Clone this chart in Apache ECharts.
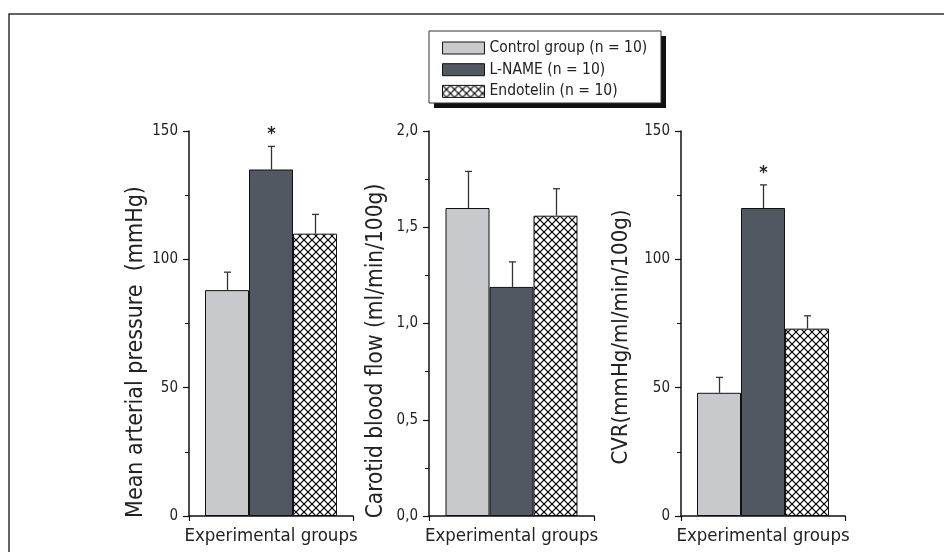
<!DOCTYPE html>
<html>
<head>
<meta charset="utf-8">
<script src="https://cdn.jsdelivr.net/npm/echarts@6/dist/echarts.min.js"></script>
<style>
html,body{margin:0;padding:0;background:#fff;}
#chart{width:944px;height:552px;}
</style>
</head>
<body>
<div id="chart"></div>
<script>
// ---- data ----
const groups = ['Control group (n = 10)', 'L-NAME (n = 10)', 'Endotelin (n = 10)'];
const xTitle = 'Experimental groups';
const categories = [''];
const mapMean = [88, 135, 110];
const mapErr = [7, 9, 7.5];
const mapSig = ['', '*', ''];
const cbfMean = [1.6, 1.19, 1.56];
const cbfErr = [0.19, 0.13, 0.14];
const cbfSig = ['', '', ''];
const cvrMean = [48, 120, 73];
const cvrErr = [6, 9, 5];
const cvrSig = ['', '*', ''];
const yTitles = ['Mean arterial pressure  (mmHg)', 'Carotid blood flow (ml/min/100g)', 'CVR(mmHg/ml/min/100g)'];
const yMax = [150, 2, 150];
const yInterval = [50, 0.5, 50];
const yDecimals = [0, 1, 0];

// ---- styling / layout ----
const FONT = "'DejaVu Sans Condensed', 'Liberation Sans Narrow', sans-serif";
const TXT = '#222';
const BAR_W = 44;
const grids = [
  {left: 189, top: 131, width: 164, height: 385},
  {left: 429, top: 131, width: 165, height: 385},
  {left: 681, top: 131, width: 164, height: 385}
];
const titlePos = [[136, 352], [376, 351], [621, 337]];
const titleSize = [23, 22.5, 22];

function hatch() {
  const c = document.createElement('canvas');
  const s = 8;
  c.width = s; c.height = s;
  const g = c.getContext('2d');
  g.fillStyle = '#fff';
  g.fillRect(0, 0, s, s);
  g.strokeStyle = '#000';
  g.lineWidth = 1.2;
  g.beginPath();
  g.moveTo(-1, -1); g.lineTo(s + 1, s + 1);
  g.moveTo(s + 1, -1); g.lineTo(-1, s + 1);
  g.stroke();
  return c;
}
const fills = ['#c8c9cd', '#525862', {image: hatch(), repeat: 'repeat'}];

const panels = [
  {mean: mapMean, err: mapErr, sig: mapSig},
  {mean: cbfMean, err: cbfErr, sig: cbfSig},
  {mean: cvrMean, err: cvrErr, sig: cvrSig}
];

const xAxes = [], yAxes = [], series = [];
panels.forEach((p, k) => {
  xAxes.push({
    type: 'category', gridIndex: k, data: categories,
    axisLine: {lineStyle: {color: '#111', width: 1.5}},
    axisTick: {show: true, length: 5, lineStyle: {color: '#111', width: 1.2}},
    axisLabel: {show: false},
    name: xTitle, nameLocation: 'middle', nameGap: 11,
    nameTextStyle: {fontFamily: FONT, fontSize: 18.5, color: TXT}
  });
  yAxes.push({
    type: 'value', gridIndex: k, min: 0, max: yMax[k], interval: yInterval[k],
    axisLine: {show: true, lineStyle: {color: '#111', width: 1.5}},
    axisTick: {show: true, length: 6, lineStyle: {color: '#111', width: 1.2}},
    minorTick: {show: true, splitNumber: 2, length: 4, lineStyle: {color: '#111', width: 1}},
    splitLine: {show: false},
    axisLabel: {
      fontFamily: FONT, fontSize: 15, color: TXT, margin: 11,
      formatter: v => v.toFixed(yDecimals[k]).replace('.', ',')
    }
  });
  groups.forEach((g, i) => {
    series.push({
      type: 'bar', name: g, xAxisIndex: k, yAxisIndex: k,
      data: [p.mean[i]], barWidth: BAR_W, barGap: '0%',
      itemStyle: {color: fills[i], borderColor: '#111', borderWidth: 1},
      emphasis: {disabled: true}, animation: false
    });
  });
  series.push({
    type: 'custom', name: 'err' + k, xAxisIndex: k, yAxisIndex: k, z: 5,
    data: p.mean.map((m, i) => [0, m + p.err[i]]),
    encode: {x: 0, y: 1},
    animation: false, silent: true,
    renderItem: function (params, api) {
      const i = params.dataIndex;
      const base = api.coord([0, p.mean[i]]);
      const top = api.coord([0, p.mean[i] + p.err[i]]);
      const x = Math.round(base[0] + (i - 1) * BAR_W) + 0.5;
      const st = {stroke: '#333', lineWidth: 1.3};
      const children = [
        {type: 'line', shape: {x1: x, y1: base[1], x2: x, y2: top[1]}, style: st},
        {type: 'line', shape: {x1: x - 3.5, y1: top[1], x2: x + 3.5, y2: top[1]}, style: st}
      ];
      if (p.sig[i]) {
        children.push({type: 'text', style: {
          x: x, y: top[1] - 12, text: p.sig[i], align: 'center', verticalAlign: 'middle',
          fontFamily: FONT, fontSize: 18, fontWeight: 'bold', fill: TXT}});
      }
      return {type: 'group', children: children};
    }
  });
});

const graphics = [
  {type: 'rect', silent: true, z: -10, shape: {x: 9, y: 14, width: 1000, height: 600},
   style: {fill: 'none', stroke: '#333', lineWidth: 1.5}},
  {type: 'rect', silent: true, z: 0, shape: {x: 434, y: 36, width: 232, height: 72},
   style: {fill: '#111'}},
  {type: 'rect', silent: true, z: 1, shape: {x: 429, y: 31, width: 232, height: 72},
   style: {fill: '#fff', stroke: '#333', lineWidth: 1}}
];
yTitles.forEach((t, k) => {
  graphics.push({
    type: 'text', silent: true, x: titlePos[k][0], y: titlePos[k][1], rotation: Math.PI / 2,
    style: {text: t, x: 0, y: 0, align: 'center', verticalAlign: 'middle',
            fontFamily: FONT, fontSize: titleSize[k], fill: TXT}
  });
});

const chart = echarts.init(document.getElementById('chart'), null, {renderer: 'canvas'});
chart.setOption({
  animation: false,
  backgroundColor: '#fff',
  grid: grids,
  xAxis: xAxes,
  yAxis: yAxes,
  legend: {
    data: groups.map(g => ({name: g, icon: 'rect'})), orient: 'vertical', left: 437, top: 33, z: 10,
    itemWidth: 42, itemHeight: 12, itemGap: 1.7,
    itemStyle: {borderColor: '#111', borderWidth: 1},
    textStyle: {fontFamily: FONT, fontSize: 15.5, color: TXT, lineHeight: 20},
    selectedMode: false
  },
  graphic: graphics,
  series: series
});
</script>
</body>
</html>
